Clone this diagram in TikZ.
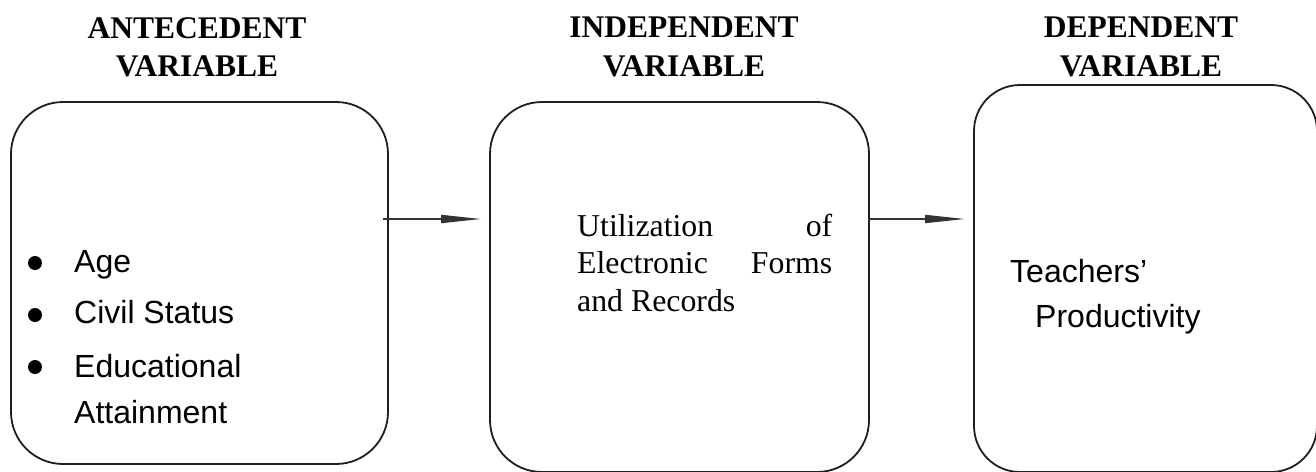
\documentclass[tikz,border=0pt]{standalone}
\usepackage{fontspec}
\setmainfont{Liberation Serif}
\newfontfamily\sansfam{Liberation Sans}
\usetikzlibrary{arrows.meta}

\tikzset{
  varbox/.style={draw=black!88, line width=1.8pt, rectangle, inner sep=0pt},
  heading/.style={font=\fontsize{31.5}{38.5}\selectfont\bfseries, align=center, anchor=north, inner sep=0pt},
  item/.style={font=\sansfam\fontsize{32}{46}\selectfont, anchor=base west, inner sep=0pt, align=left},
  serifbody/.style={font=\fontsize{31.8}{37.5}\selectfont, anchor=base west, inner sep=0pt, align=left},
  conn/.style={draw=black!80, line width=1.8pt,
    -{Triangle[length=40pt, width=8pt]}},
  dot/.style={circle, fill=black, inner sep=0pt, minimum size=14pt}
}

\begin{document}
\begin{tikzpicture}[x=1pt, y=-1pt]
  \useasboundingbox (0,0) rectangle (1316,471);
  \clip (0,0) rectangle (1316,471);

  % headings
  \node[heading] (hA) at (197,17) {ANTECEDENT\\VARIABLE};
  \node[heading] (hI) at (684,17) {INDEPENDENT\\VARIABLE};
  \node[heading] (hD) at (1141,17) {DEPENDENT\\VARIABLE};

  % variable boxes
  \node[varbox, rounded corners=52pt, minimum width=377pt, minimum height=362pt] (ante) at (199.5,283) {};
  \node[varbox, rounded corners=52pt, minimum width=379pt, minimum height=370pt] (indep) at (679.5,287) {};
  \node[varbox, rounded corners=46pt, minimum width=343pt, minimum height=387pt] (dep) at (1145.5,278.5) {};

  % antecedent list (multi-line nodes sit on the baseline of their last line)
  \node[dot] (d1) at (35,263) {};
  \node[dot] (d2) at (35,315) {};
  \node[dot] (d3) at (35,367) {};
  \node[item] (age) at (74,272) {Age};
  \node[item] (civil) at (74,323) {Civil Status};
  \node[item] (educ) at (74,423) {Educational\\Attainment};

  % independent variable text
  \node[serifbody] (util) at (577,311)
    {\makebox[255pt][s]{Utilization of}\\
     \makebox[255pt][s]{Electronic Forms}\\
     and Records};

  % dependent variable text
  \node[item] (teach) at (1010,282) {Teachers’};
  \node[item] (prod) at (1035,327) {Productivity};

  % connectors
  \coordinate (lvl) at (0,219);
  \draw[conn] ([xshift=-6pt]ante.east |- lvl) -- ([xshift=-8pt]indep.west |- lvl);
  \draw[conn] ([xshift=-2pt]indep.east |- lvl) -- ([xshift=-8pt]dep.west |- lvl);
\end{tikzpicture}
\end{document}
